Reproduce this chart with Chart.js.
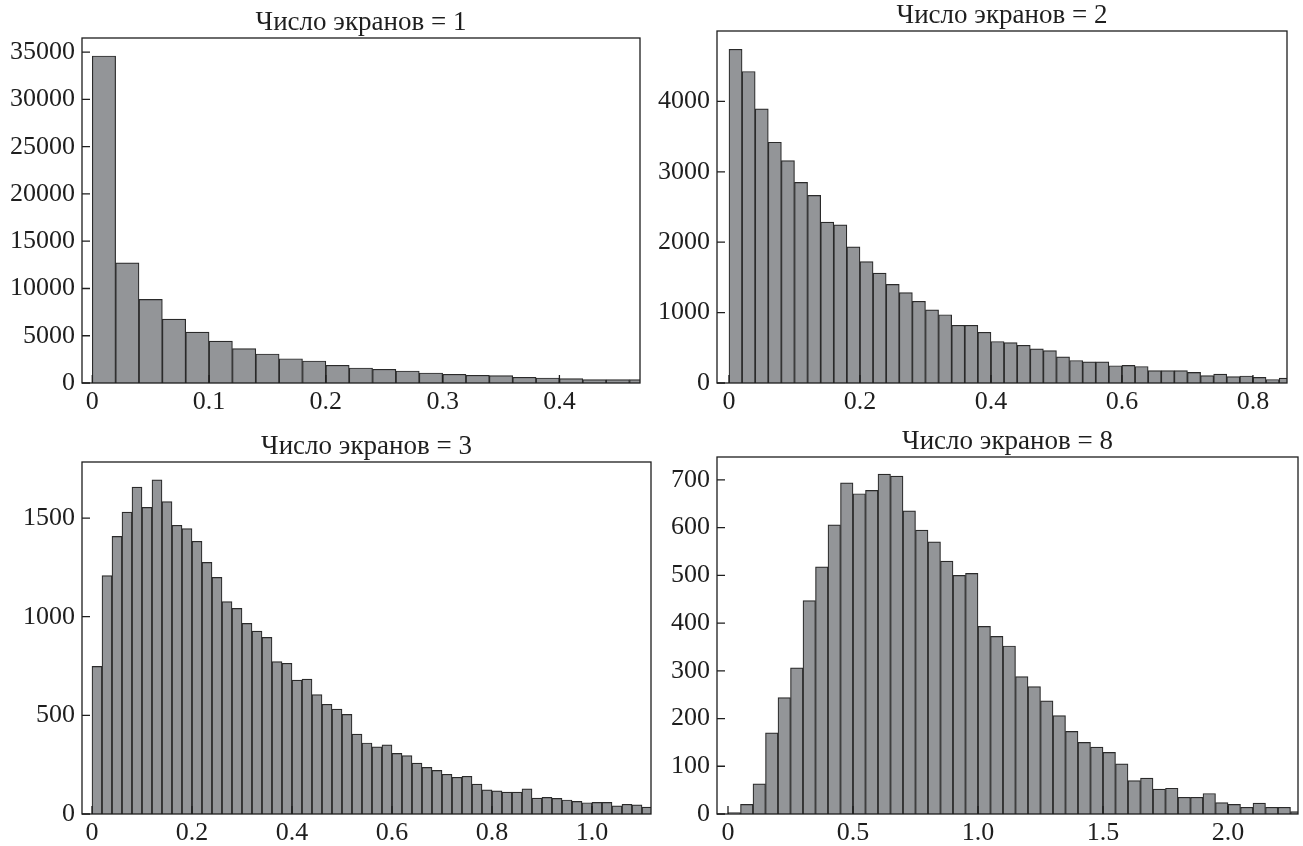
<!DOCTYPE html>
<html lang="ru">
<head>
<meta charset="utf-8">
<title>Число экранов</title>
<script src="https://cdn.jsdelivr.net/npm/chart.js@4.4.1/dist/chart.umd.min.js"></script>
<style>
  html, body { margin: 0; padding: 0; background: #fff; overflow: hidden; }
  #wrap { position: relative; width: 1303px; height: 846px; }
  canvas { position: absolute; }
</style>
</head>
<body>
<div id="wrap">
  <canvas id="chart1" width="650" height="423" style="left:0;top:0"></canvas>
  <canvas id="chart2" width="653" height="423" style="left:650px;top:0"></canvas>
  <canvas id="chart3" width="660" height="423" style="left:0;top:423px"></canvas>
  <canvas id="chart4" width="653" height="423" style="left:650px;top:423px"></canvas>
</div>
<script>
const titles = ['Число экранов = 1', 'Число экранов = 2', 'Число экранов = 3', 'Число экранов = 8']

// panel 1
const counts1 = [34600, 12720, 8850, 6770, 5390, 4440, 3630, 3070, 2570, 2330, 1870, 1590,
  1450, 1270, 1060, 920, 810, 780, 600, 530, 460, 350, 350, 350]
const binWidth1 = 0.02
const xTicks1 = [0, 0.1, 0.2, 0.3, 0.4]
const xLabels1 = ['0', '0.1', '0.2', '0.3', '0.4']
const yTicks1 = [0, 5000, 10000, 15000, 20000, 25000, 30000, 35000]

// panel 2
const counts2 = [4740, 4425, 3895, 3420, 3160, 2850, 2665, 2285, 2245, 1935, 1725, 1560, 1400,
  1285, 1160, 1040, 970, 820, 820, 720, 590, 575, 535, 485, 460, 370, 320, 300, 300, 245, 250,
  235, 175, 175, 175, 150, 105, 125, 90, 100, 80, 50, 70]
const binWidth2 = 0.02
const xTicks2 = [0, 0.2, 0.4, 0.6, 0.8]
const xLabels2 = ['0', '0.2', '0.4', '0.6', '0.8']
const yTicks2 = [0, 1000, 2000, 3000, 4000]

// panel 3
const counts3 = [748, 1208, 1407, 1530, 1657, 1554, 1694, 1583, 1463, 1446, 1382, 1275, 1199,
  1076, 1042, 966, 927, 895, 772, 764, 679, 684, 605, 556, 532, 505, 405, 360, 340, 350, 307,
  296, 258, 236, 221, 201, 186, 191, 152, 122, 117, 111, 111, 127, 81, 84, 79, 71, 64, 57, 59,
  59, 41, 49, 46, 35]
const binWidth3 = 0.02
const xTicks3 = [0, 0.2, 0.4, 0.6, 0.8, 1.0]
const xLabels3 = ['0', '0.2', '0.4', '0.6', '0.8', '1.0']
const yTicks3 = [0, 500, 1000, 1500]

// panel 4
const counts4 = [3, 20, 63, 170, 244, 306, 447, 518, 606, 694, 671, 678, 712, 708, 635, 595,
  570, 530, 500, 504, 393, 372, 352, 288, 267, 237, 206, 173, 150, 140, 129, 105, 70, 75, 52,
  54, 35, 35, 43, 24, 20, 14, 23, 14, 14, 5]
const binWidth4 = 0.05
const xTicks4 = [0, 0.5, 1.0, 1.5, 2.0]
const xLabels4 = ['0', '0.5', '1.0', '1.5', '2.0']
const yTicks4 = [0, 100, 200, 300, 400, 500, 600, 700]

const fontFamily = '"Liberation Serif", "Times New Roman", serif'
const inkColor = '#1e1e1e'
const barFill = '#939598'
const barEdge = '#2a2a2a'

// box around the plot + inward tick marks
const frameTicks = {
  id: 'frameTicks',
  afterDatasetsDraw(chart) {
    const { ctx, chartArea: a, scales } = chart
    ctx.save()
    ctx.strokeStyle = inkColor
    ctx.lineWidth = 1.3
    ctx.strokeRect(a.left, a.top, a.right - a.left, a.bottom - a.top)
    ctx.beginPath()
    scales.x.ticks.forEach((t) => {
      const px = scales.x.getPixelForValue(t.value)
      ctx.moveTo(px, a.bottom)
      ctx.lineTo(px, a.bottom - 8)
    })
    scales.y.ticks.forEach((t) => {
      const py = scales.y.getPixelForValue(t.value)
      ctx.moveTo(a.left, py)
      ctx.lineTo(a.left + 8, py)
    })
    ctx.stroke()
    ctx.restore()
  },
}

function makeHist(id, p) {
  const points = p.counts.map((c, i) => ({ x: (i + 0.5) * p.binWidth, y: c }))
  return new Chart(document.getElementById(id), {
    type: 'bar',
    data: {
      datasets: [
        {
          data: points,
          backgroundColor: barFill,
          borderColor: barEdge,
          borderWidth: 1.2,
          barPercentage: 1,
          categoryPercentage: 1,
          clip: 0,
        },
      ],
    },
    options: {
      responsive: false,
      animation: false,
      events: [],
      layout: { padding: { left: 0, right: p.padRight, top: 0, bottom: 0 } },
      plugins: {
        legend: { display: false },
        tooltip: { enabled: false },
        title: {
          display: true,
          text: p.title,
          fullSize: false,
          color: inkColor,
          font: { family: fontFamily, size: 27, weight: 'normal', lineHeight: 1.1 },
          padding: p.titlePad,
        },
      },
      scales: {
        x: {
          type: 'linear',
          offset: false,
          min: p.xMin,
          max: p.xMax,
          grid: { display: false, drawTicks: false },
          border: { display: false },
          afterBuildTicks: (scale) => { scale.ticks = p.xTicks.map((v) => ({ value: v })) },
          afterFit: (scale) => { scale.height = p.xHeight },
          ticks: {
            color: inkColor,
            padding: 4,
            maxRotation: 0,
            font: { family: fontFamily, size: 26 },
            callback: (v) => p.xLabels[p.xTicks.indexOf(v)],
          },
        },
        y: {
          min: 0,
          max: p.yMax,
          grid: { display: false, drawTicks: false },
          border: { display: false },
          afterBuildTicks: (scale) => { scale.ticks = p.yTicks.map((v) => ({ value: v })) },
          afterFit: (scale) => { scale.width = p.yWidth },
          ticks: {
            color: inkColor,
            padding: 7,
            font: { family: fontFamily, size: 26 },
            callback: (v) => String(v),
          },
        },
      },
    },
    plugins: [frameTicks],
  })
}

makeHist('chart1', {
  title: titles[0], counts: counts1, binWidth: binWidth1,
  xMin: -0.0088, xMax: 0.469, yMax: 36500,
  xTicks: xTicks1, xLabels: xLabels1, yTicks: yTicks1,
  yWidth: 82, padRight: 10, xHeight: 40, titlePad: { top: 8, bottom: 0.3 },
})
makeHist('chart2', {
  title: titles[1], counts: counts2, binWidth: binWidth2,
  xMin: -0.0183, xMax: 0.852, yMax: 5000,
  xTicks: xTicks2, xLabels: xLabels2, yTicks: yTicks2,
  yWidth: 67, padRight: 16, xHeight: 40, titlePad: { top: 1, bottom: 0.3 },
})
makeHist('chart3', {
  title: titles[2], counts: counts3, binWidth: binWidth3,
  xMin: -0.02, xMax: 1.118, yMax: 1784,
  xTicks: xTicks3, xLabels: xLabels3, yTicks: yTicks3,
  yWidth: 82, padRight: 9, xHeight: 32, titlePad: { top: 9, bottom: 0.3 },
})
makeHist('chart4', {
  title: titles[3], counts: counts4, binWidth: binWidth4,
  xMin: -0.044, xMax: 2.28, yMax: 748,
  xTicks: xTicks4, xLabels: xLabels4, yTicks: yTicks4,
  yWidth: 67, padRight: 5, xHeight: 32, titlePad: { top: 4.3, bottom: 0 },
})
</script>
</body>
</html>
